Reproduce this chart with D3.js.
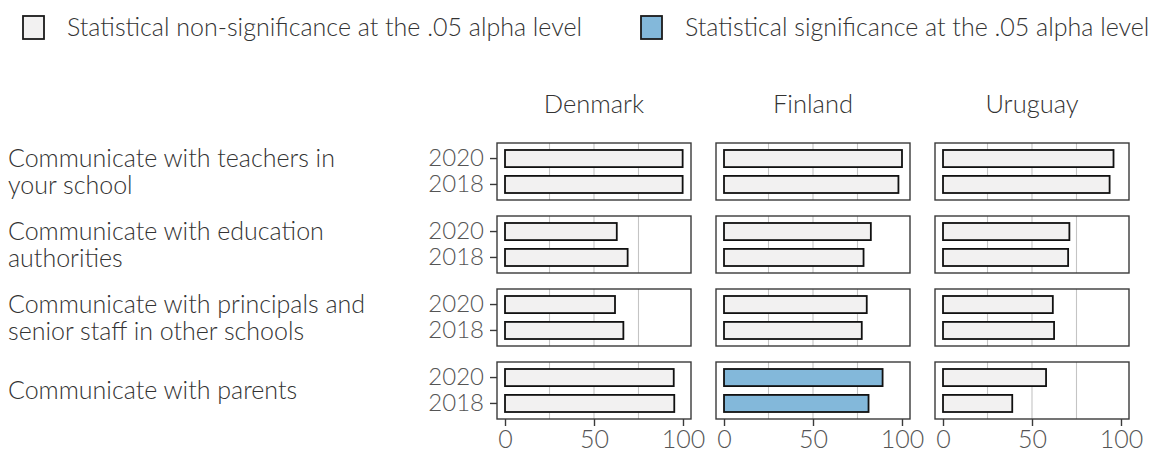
<!DOCTYPE html>
<html>
<head>
<meta charset="utf-8">
<script src="https://cdn.jsdelivr.net/npm/d3@7"></script>
<style>
  html, body { margin: 0; padding: 0; background: #fff; }
  svg { display: block; font-family: Lato, "Open Sans", sans-serif; font-weight: 300; }
</style>
</head>
<body>
<svg id="chart" width="1153" height="453"></svg>
<script>
// ---- data ----
const countries = ["Denmark", "Finland", "Uruguay"];
const items = [
  ["Communicate with teachers in", "your school"],
  ["Communicate with education", "authorities"],
  ["Communicate with principals and", "senior staff in other schools"],
  ["Communicate with parents"]
];
const years = ["2020", "2018"];
// values[country][item] = [2020, 2018]
const denmark = [[99.8, 99.8], [62.8, 68.9], [61.8, 66.5], [94.8, 95.1]];
const finland = [[100, 98.0], [82.5, 78.4], [80.2, 77.4], [89.1, 81.2]];
const uruguay = [[95.8, 93.6], [71.0, 70.3], [61.7, 62.4], [57.9, 38.9]];
// significance flags (same shape)
const denmarkSig = [[0, 0], [0, 0], [0, 0], [0, 0]];
const finlandSig = [[0, 0], [0, 0], [0, 0], [1, 1]];
const uruguaySig = [[0, 0], [0, 0], [0, 0], [0, 0]];
const xTicks = [0, 50, 100];
const gridValues = [25, 50, 75];
const legendLabels = ["Statistical non-significance at the .05 alpha level",
                      "Statistical significance at the .05 alpha level"];

const values = [denmark, finland, uruguay];
const sigs = [denmarkSig, finlandSig, uruguaySig];

// ---- layout ----
const svg = d3.select("#chart");
const panelX = [497, 716, 935];
const panelW = 194;
const panelTop0 = 143, panelH = 57, panelStep = 73;
const fillColor = d3.scaleOrdinal().domain([0, 1]).range(["#f2f1f1", "#83b8da"]);

// legend
const legX = [23, 641];
legendLabels.forEach((lab, i) => {
  svg.append("rect").attr("x", legX[i]).attr("y", 16).attr("width", 21).attr("height", 23)
    .attr("fill", fillColor(i)).attr("stroke", "#1a1a1a").attr("stroke-width", 1.8);
  svg.append("text").attr("x", legX[i] + 44).attr("y", 27.5).attr("dy", "0.35em")
    .attr("font-size", 25).attr("fill", "#333").text(lab);
});

// facet titles
countries.forEach((c, ci) => {
  svg.append("text").attr("x", panelX[ci] + panelW / 2).attr("y", 104).attr("dy", "0.35em")
    .attr("text-anchor", "middle").attr("font-size", 25.5).attr("fill", "#333").text(c);
});

items.forEach((lines, ri) => {
  const top = panelTop0 + ri * panelStep;
  const cy = top + panelH / 2;
  // row label
  const t = svg.append("text").attr("font-size", 25).attr("fill", "#333");
  const lh = 27;
  lines.forEach((ln, li) => {
    t.append("tspan").attr("x", 8)
      .attr("y", cy + (li - (lines.length - 1) / 2) * lh)
      .attr("dy", "0.35em").text(ln);
  });

  const y = d3.scaleBand().domain(years).range([top, top + panelH])
    .paddingInner(0.34).paddingOuter(0.27);

  countries.forEach((c, ci) => {
    const x = d3.scaleLinear().domain([-4.5, 104.5]).range([panelX[ci], panelX[ci] + panelW]);
    const g = svg.append("g");
    // grid
    g.selectAll("line.grid").data(gridValues).enter().append("line")
      .attr("x1", d => x(d)).attr("x2", d => x(d))
      .attr("y1", top).attr("y2", top + panelH)
      .attr("stroke", "#c4c4c4").attr("stroke-width", 1.1);
    // bars
    g.selectAll("rect.bar").data(years.map((yr, k) => ({yr, v: values[ci][ri][k], s: sigs[ci][ri][k]})))
      .enter().append("rect")
      .attr("x", x(0)).attr("y", d => y(d.yr))
      .attr("width", d => x(d.v) - x(0)).attr("height", y.bandwidth())
      .attr("fill", d => fillColor(d.s)).attr("stroke", "#111").attr("stroke-width", 1.8);
    // panel border
    g.append("rect").attr("x", panelX[ci]).attr("y", top).attr("width", panelW).attr("height", panelH)
      .attr("fill", "none").attr("stroke", "#3a3a3a").attr("stroke-width", 1.4);

    // y axis on first column
    if (ci === 0) {
      const ya = svg.append("g").attr("transform", `translate(${panelX[0]},0)`)
        .call(d3.axisLeft(y).tickSize(7).tickPadding(6));
      ya.select(".domain").remove();
      ya.selectAll(".tick line").attr("stroke", "#3a3a3a").attr("stroke-width", 1.4);
      ya.selectAll(".tick text").attr("font-size", 24).attr("fill", "#555")
        .attr("font-family", "Lato, sans-serif").attr("font-weight", 300);
    }
    // x axis on last row
    if (ri === items.length - 1) {
      const xa = svg.append("g").attr("transform", `translate(0,${top + panelH})`)
        .call(d3.axisBottom(x).tickValues(xTicks).tickSize(7).tickPadding(4));
      xa.select(".domain").remove();
      xa.selectAll(".tick line").attr("stroke", "#3a3a3a").attr("stroke-width", 1.4);
      xa.selectAll(".tick text").attr("font-size", 25).attr("fill", "#555")
        .attr("font-family", "Lato, sans-serif").attr("font-weight", 300);
    }
  });
});
</script>
</body>
</html>
